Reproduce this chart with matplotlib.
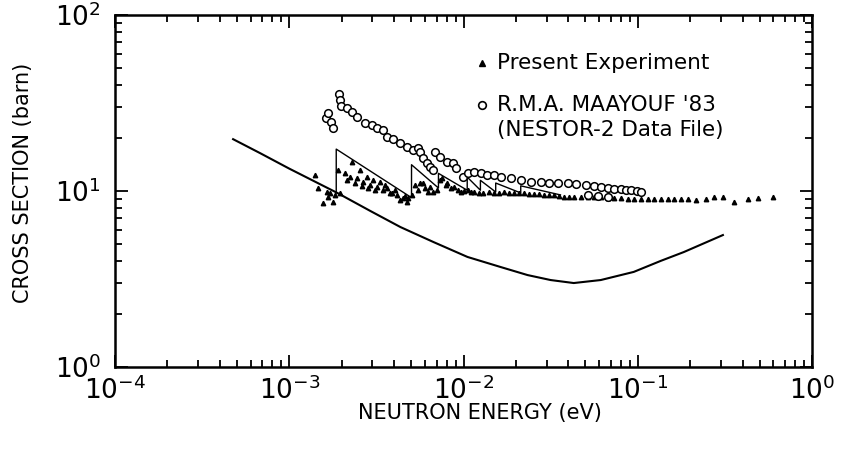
import numpy as np
import matplotlib
matplotlib.use("Agg")
import matplotlib.pyplot as plt
from matplotlib.ticker import LogLocator, LogFormatterSciNotation, NullFormatter

plt.rcParams['font.family'] = ['DejaVu Sans']
plt.rcParams['mathtext.fontset'] = 'dejavusans'

# present experiment (triangles): energy (eV), cross section (barn)
exp_E = [1.411e-3, 1.468e-3, 1.568e-3, 1.653e-3, 1.675e-3, 1.720e-3, 1.790e-3, 1.838e-3,
         1.912e-3, 1.964e-3, 2.098e-3, 2.154e-3, 2.242e-3, 2.302e-3, 2.395e-3, 2.459e-3,
         2.559e-3, 2.627e-3, 2.662e-3, 2.807e-3, 2.844e-3, 2.920e-3, 3.039e-3, 3.121e-3,
         3.203e-3, 3.334e-3, 3.469e-3, 3.562e-3, 3.657e-3, 3.806e-3, 3.908e-3, 4.066e-3,
         4.175e-3, 4.344e-3, 4.520e-3, 4.642e-3, 4.767e-3, 4.830e-3, 5.092e-3, 5.298e-3,
         5.512e-3, 5.660e-3, 5.889e-3, 6.047e-3, 6.292e-3, 6.460e-3, 6.722e-3, 7.088e-3,
         7.375e-3, 7.573e-3, 7.881e-3, 8.091e-3, 8.420e-3, 8.760e-3, 9.237e-3, 9.612e-3,
         1.000e-2, 1.054e-2, 1.097e-2, 1.142e-2, 1.219e-2, 1.302e-2, 1.392e-2, 1.487e-2,
         1.589e-2, 1.698e-2, 1.814e-2, 1.938e-2, 2.070e-2, 2.212e-2, 2.363e-2, 2.525e-2,
         2.698e-2, 2.883e-2, 3.080e-2, 3.290e-2, 3.516e-2, 3.756e-2, 4.012e-2, 4.287e-2,
         4.703e-2, 5.160e-2, 5.588e-2, 6.130e-2, 6.724e-2, 7.280e-2, 7.986e-2, 8.760e-2,
         9.484e-2, 0.1040, 0.1142, 0.1236, 0.1356, 0.1487, 0.1610, 0.1766, 0.1938, 0.2154,
         0.2459, 0.2734, 0.3080, 0.3562, 0.4287, 0.4896, 0.5970]
exp_sigma = [12.3, 10.4, 8.55, 9.87, 9.25, 9.75, 8.66, 9.5,
             13.2, 9.75, 12.6, 11.55, 12.0, 14.6, 11.1, 11.9,
             13.2, 10.7, 11.25, 12.0, 10.4, 10.8, 11.55, 10.1,
             10.5, 11.25, 10.1, 10.8, 10.4, 9.75, 9.75, 10.1,
             9.5, 8.89, 9.12, 9.37, 8.66, 9.12, 9.5, 10.8,
             10.1, 11.1, 11.1, 10.4, 9.87, 10.5, 9.87, 10.1,
             11.55, 11.9, 10.8, 11.1, 10.4, 10.5, 10.1, 9.87,
             10.0, 10.1, 9.87, 9.87, 9.75, 9.75, 9.87, 9.75,
             9.75, 9.87, 9.75, 9.75, 9.75, 9.75, 9.62, 9.62,
             9.62, 9.5, 9.5, 9.5, 9.37, 9.25, 9.25, 9.25,
             9.25, 9.25, 9.25, 9.25, 9.12, 9.12, 9.12, 9.02,
             9.02, 9.02, 9.02, 9.02, 9.02, 9.02, 9.02, 9.02, 9.02, 8.89,
             9.02, 9.25, 9.25, 8.66, 9.02, 9.12, 9.25]

# R.M.A. Maayouf '83 (open circles)
maa_E = [1.632e-3, 1.675e-3, 1.743e-3, 1.790e-3, 1.938e-3, 1.964e-3, 1.990e-3, 2.154e-3,
         2.302e-3, 2.459e-3, 2.734e-3, 2.999e-3, 3.203e-3, 3.469e-3, 3.657e-3, 3.960e-3,
         4.344e-3, 4.767e-3, 5.160e-3, 5.512e-3, 5.660e-3, 5.889e-3, 6.209e-3, 6.460e-3,
         6.722e-3, 6.904e-3, 7.375e-3, 8.091e-3, 8.646e-3, 8.995e-3, 9.869e-3, 1.054e-2,
         1.142e-2, 1.252e-2, 1.370e-2, 1.487e-2, 1.632e-2, 1.863e-2, 2.127e-2, 2.428e-2,
         2.770e-2, 3.080e-2, 3.469e-2, 3.960e-2, 4.402e-2, 5.025e-2, 5.588e-2, 6.130e-2,
         6.724e-2, 7.280e-2, 7.986e-2, 8.530e-2, 9.117e-2, 9.870e-2, 0.1040,
         5.160e-2, 5.890e-2, 6.724e-2]
maa_sigma = [26.0, 27.7, 24.7, 22.8, 35.6, 32.9, 30.4, 29.6,
             28.1, 26.3, 24.3, 23.7, 22.8, 22.2, 20.3, 19.7,
             18.7, 17.8, 17.1, 17.5, 16.7, 15.4, 14.4, 13.7,
             13.2, 16.7, 15.6, 14.6, 14.4, 13.5, 12.0, 12.6,
             12.8, 12.6, 12.4, 12.3, 12.0, 11.9, 11.55, 11.25,
             11.25, 11.1, 11.1, 11.1, 10.96, 10.8, 10.7, 10.5,
             10.4, 10.3, 10.3, 10.1, 10.1, 10.0, 9.87,
             9.5, 9.37, 9.25]

# calculated Bragg-edge sawtooth (thin line)
bragg_E = [1.86e-3, 1.86e-3, 4.96e-3, 5.03e-3, 5.03e-3, 7.18e-3, 7.18e-3, 1.05e-2, 1.05e-2,
           1.25e-2, 1.25e-2, 1.53e-2, 1.53e-2, 2.13e-2, 2.13e-2, 3.6e-2]
bragg_sigma = [9.75, 17.3, 9.25, 9.25, 14.1, 10.4, 12.6, 10.1, 12.0,
               10.1, 11.5, 9.87, 11.1, 9.75, 10.7, 9.5]

# smooth curve
curve_E = [4.76e-4, 6.81e-4, 1.0e-3, 1.887e-3, 2.92e-3, 4.344e-3, 6.72e-3, 1.054e-2,
           1.632e-2, 2.33e-2, 3.16e-2, 4.29e-2, 6.13e-2, 9.48e-2, 0.1356, 0.1838, 0.308]
curve_sigma = [19.7, 16.4, 13.4, 9.75, 7.7, 6.24, 5.13, 4.22,
               3.70, 3.33, 3.12, 3.0, 3.12, 3.47, 4.01, 4.5, 5.62]

fig = plt.figure(figsize=(8.47, 4.5), dpi=100)
ax = fig.add_axes([0.1358, 0.1844, 0.8229, 0.7823])

ax.plot(curve_E, curve_sigma, '-', color='black', lw=1.5)
ax.plot(bragg_E, bragg_sigma, '-', color='black', lw=1.0)
ax.plot(exp_E, exp_sigma, '^', color='black', ms=3.2, mec='black', ls='none')
ax.plot(maa_E, maa_sigma, 'o', mfc='white', mec='black', mew=1.1, ms=5.5, ls='none')

ax.set_xscale('log')
ax.set_yscale('log')
ax.set_xlim(1e-4, 1)
ax.set_ylim(1, 100)

for axis in (ax.xaxis, ax.yaxis):
    axis.set_major_locator(LogLocator(base=10, numticks=10))
    axis.set_minor_locator(LogLocator(base=10, subs=np.arange(2, 10), numticks=10))
    axis.set_minor_formatter(NullFormatter())
    axis.set_major_formatter(LogFormatterSciNotation())

ax.tick_params(which='both', direction='in', top=True, right=True, width=1.3, color='black')
ax.tick_params(which='major', length=9, labelsize=19)
ax.tick_params(which='minor', length=5)
ax.tick_params(axis='x', pad=7)
ax.tick_params(axis='y', pad=10)
for s in ax.spines.values():
    s.set_linewidth(1.8)

ax.set_xlabel('NEUTRON ENERGY (eV)', fontsize=15, va='top')
ax.xaxis.set_label_coords(0.524, -0.102)
ax.set_ylabel('CROSS SECTION (barn)', fontsize=15, va='bottom')
ax.yaxis.set_label_coords(-0.118, 0.523)

# legend drawn by hand
ax.plot([0.526], [0.864], '^', color='black', ms=5, transform=ax.transAxes, clip_on=False)
ax.text(0.548, 0.864, 'Present Experiment', transform=ax.transAxes, fontsize=15.5, va='center')
ax.plot([0.526], [0.744], 'o', mfc='white', mec='black', mew=1.2, ms=5.5, transform=ax.transAxes)
ax.text(0.548, 0.744, "R.M.A. MAAYOUF '83", transform=ax.transAxes, fontsize=15.5, va='center')
ax.text(0.548, 0.673, '(NESTOR-2 Data File)', transform=ax.transAxes, fontsize=15.5, va='center')

fig.savefig('out.png', dpi=100)
